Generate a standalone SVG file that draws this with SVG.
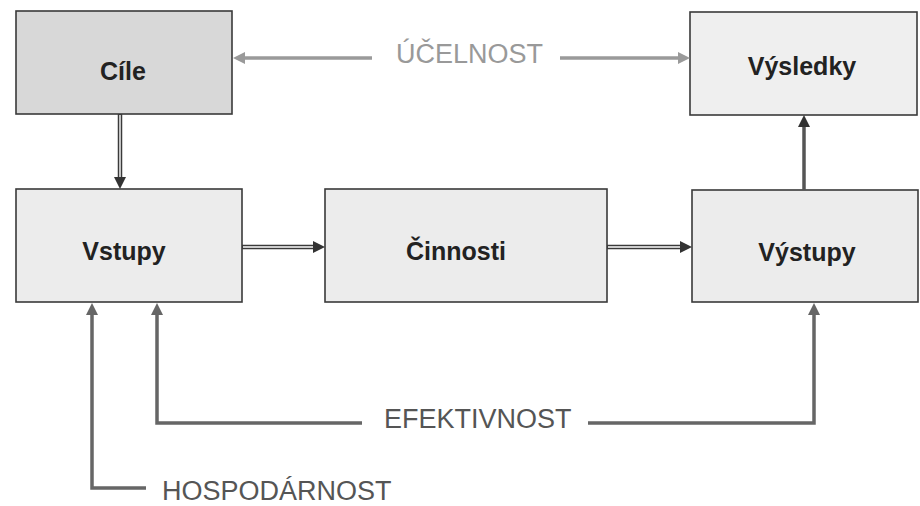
<svg xmlns="http://www.w3.org/2000/svg" width="920" height="506" viewBox="0 0 920 506">
<defs>
<style>
.box{stroke:#3a3a3a;stroke-width:1.6}
.lbl{font-family:"Liberation Sans",Arial,sans-serif;font-weight:bold;font-size:25px;fill:#222;text-anchor:middle}
.cap{font-family:"Liberation Sans",Arial,sans-serif;font-size:27px;fill:#555}
.dbl{fill:none;stroke:#3a3a3a;stroke-width:4.5}
.dblin{fill:none;stroke:#ffffff;stroke-width:1.4}
.fb{fill:none;stroke:#666;stroke-width:3.5}
.up{fill:none;stroke:#555;stroke-width:3.5}
.uc{fill:none;stroke:#9a9a9a;stroke-width:3.5}
</style>
<marker id="aDark" viewBox="0 0 12 12" markerWidth="12" markerHeight="12" markerUnits="userSpaceOnUse" refX="2" refY="6" orient="auto"><path d="M0,0 L12,6 L0,12 z" fill="#333"/></marker>
<marker id="aMid" viewBox="0 0 12 12" markerWidth="12" markerHeight="12" markerUnits="userSpaceOnUse" refX="2" refY="6" orient="auto"><path d="M0,0 L12,6 L0,12 z" fill="#666"/></marker>
<marker id="aGray" viewBox="0 0 12 12" markerWidth="12" markerHeight="12" markerUnits="userSpaceOnUse" refX="2" refY="6" orient="auto"><path d="M0,0 L12,6 L0,12 z" fill="#9a9a9a"/></marker>
</defs>
<rect width="920" height="506" fill="#ffffff"/>
<g id="cile"><rect class="box" x="16" y="11" width="216" height="103" fill="#d8d8d8"/><text class="lbl" x="123" y="80">Cíle</text></g>
<g id="vysledky"><rect class="box" x="690" y="12" width="227" height="103" fill="#efefef"/><text class="lbl" x="802" y="75">Výsledky</text></g>
<g id="vstupy"><rect class="box" x="16" y="189" width="226" height="113" fill="#ececec"/><text class="lbl" x="124" y="260">Vstupy</text></g>
<g id="cinnosti"><rect class="box" x="325" y="189" width="282" height="113" fill="#ececec"/><text class="lbl" x="456" y="260">Činnosti</text></g>
<g id="vystupy"><rect class="box" x="692" y="190" width="226" height="112" fill="#ececec"/><text class="lbl" x="807" y="261">Výstupy</text></g>
<g id="labels">
<text class="cap" x="396" y="63" style="fill:#999">ÚČELNOST</text>
<text class="cap" x="384" y="428">EFEKTIVNOST</text>
<text class="cap" x="162" y="500">HOSPODÁRNOST</text>
</g>
<g id="connectors">
<path class="dbl" d="M120 114 V179" marker-end="url(#aDark)"/>
<path class="dblin" d="M120 115 V177"/>
<path class="dbl" d="M242 247 H315" marker-end="url(#aDark)"/>
<path class="dblin" d="M243 247 H313"/>
<path class="dbl" d="M607 247 H682" marker-end="url(#aDark)"/>
<path class="dblin" d="M608 247 H680"/>
<path class="up" d="M804 190 V125" marker-end="url(#aDark)"/>
<path class="uc" d="M372 58 H243" marker-end="url(#aGray)"/>
<path class="uc" d="M560 58 H680" marker-end="url(#aGray)"/>
<path class="fb" d="M362 423 H157 V313" marker-end="url(#aMid)"/>
<path class="fb" d="M588 423 H814 V313" marker-end="url(#aMid)"/>
<path class="fb" d="M146 488 H92 V313" marker-end="url(#aMid)"/>
</g>
</svg>
